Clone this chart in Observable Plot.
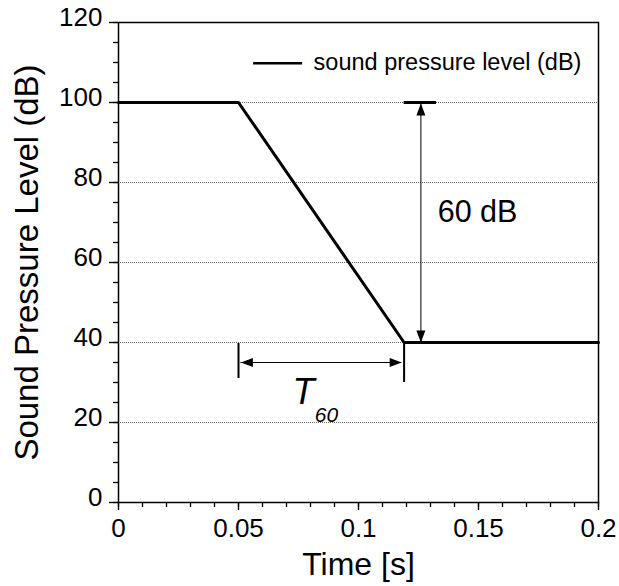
<!DOCTYPE html>
<html>
<head>
<meta charset="utf-8">
<script src="https://cdn.jsdelivr.net/npm/d3@7"></script>
<script src="https://cdn.jsdelivr.net/npm/@observablehq/plot@0.6"></script>
<style>
  html, body { margin: 0; padding: 0; background: white; }
  #chart { width: 619px; height: 586px; }
</style>
</head>
<body>
<div id="chart"></div>
<script>
// ---- data ----
const time = [0, 0.05, 0.119, 0.2];
const spl = [100, 100, 40, 40];

const xTicks = [0, 0.05, 0.1, 0.15, 0.2];
const xTickLabels = ["0", "0.05", "0.1", "0.15", "0.2"];
const xMinorTicks = [0, 0.01, 0.02, 0.03, 0.04, 0.05, 0.06, 0.07, 0.08, 0.09, 0.1,
                     0.11, 0.12, 0.13, 0.14, 0.15, 0.16, 0.17, 0.18, 0.19, 0.2];
const yTicks = [0, 20, 40, 60, 80, 100, 120];
const yMinorTicks = [0, 5, 10, 15, 20, 25, 30, 35, 40, 45, 50, 55, 60, 65, 70, 75, 80,
                     85, 90, 95, 100, 105, 110, 115, 120];
const gridValues = [20, 40, 60, 80, 100];

const seriesName = "sound pressure level (dB)";
const xTitle = "Time [s]";
const yTitle = "Sound Pressure Level (dB)";

// annotation values (data units)
const dbArrowX = 0.126;
const dbArrowY = [40, 99.75];
const dbCapX = [0.119, 0.1325];
const dbCapY = 100;
const dbLabel = "60 dB";
const dbLabelPos = [0.133, 72.6];

const t60ArrowY = 35;
const t60ArrowX = [0.051, 0.118];
const t60TickX = [0.05, 0.119];
const t60TickY1 = [31, 30];
const t60TickY2 = [39.75, 40];
const t60Label = "T";
const t60LabelPos = [0.0725, 27.5];
const t60Sub = "60";
const t60SubPos = [0.0818, 21.7];

const legendLineX = [0.0563, 0.0767];
const legendY = 109.8;
const legendTextX = 0.0813;

// ---- build ----
const line = time.map((t, i) => ({t, v: spl[i]}));
const font = "'Liberation Sans', Arial, sans-serif";

const arrowHead = {
  draw(ctx) {
    ctx.moveTo(0, 0);
    ctx.lineTo(-4.5, 12);
    ctx.lineTo(4.5, 12);
    ctx.closePath();
  }
};

const chart = Plot.plot({
  width: 619,
  height: 586,
  marginLeft: 118,
  marginRight: 21,
  marginTop: 22,
  marginBottom: 84,
  x: {domain: [0, 0.2]},
  y: {domain: [0, 120]},
  style: {fontFamily: font, background: "white", color: "black", overflow: "visible"},
  marks: [
    Plot.gridY(gridValues, {stroke: "#666", strokeOpacity: 1, strokeDasharray: "1,1", strokeWidth: 1}),
    // axes
    Plot.axisX({ticks: xMinorTicks, tickSize: 5, tickFormat: () => "", label: null, strokeWidth: 1.3}),
    Plot.axisX({ticks: xTicks, tickSize: 8, tickPadding: 8, fontSize: 26, label: null, strokeWidth: 1.3,
      tickFormat: d => xTickLabels[xTicks.indexOf(d)]}),
    Plot.axisY({ticks: yMinorTicks, tickSize: 5, tickFormat: () => "", label: null, strokeWidth: 1.3}),
    Plot.axisY({ticks: yTicks, tickSize: 9, tickFormat: () => "", label: null, strokeWidth: 1.3}),
    Plot.axisY({ticks: yTicks, tickSize: 0, tickPadding: 16, dy: -5, fontSize: 26, label: null}),
    Plot.frame({stroke: "black", strokeWidth: 1.5}),
    // axis titles
    Plot.text([xTitle], {text: d => d, frameAnchor: "bottom", textAnchor: "middle", lineAnchor: "middle", dy: 62.5, fontSize: 32}),
    Plot.text([yTitle], {text: d => d, frameAnchor: "left", textAnchor: "middle", lineAnchor: "middle", dx: -91.5, dy: 0, rotate: -90, fontSize: 33}),
    // series
    Plot.line(line, {x: "t", y: "v", stroke: "black", strokeWidth: 3}),
    // 60 dB arrow
    Plot.ruleX([dbArrowX], {y1: dbArrowY[0], y2: dbArrowY[1], stroke: "black", strokeWidth: 1}),
    Plot.ruleY([dbCapY], {x1: dbCapX[0], x2: dbCapX[1], stroke: "black", strokeWidth: 3}),
    Plot.dot([{x: dbArrowX, y: dbArrowY[1]}], {x: "x", y: "y", symbol: arrowHead, fill: "black", stroke: "none", rotate: 0}),
    Plot.dot([{x: dbArrowX, y: dbArrowY[0]}], {x: "x", y: "y", symbol: arrowHead, fill: "black", stroke: "none", rotate: 180}),
    Plot.text([{x: dbLabelPos[0], y: dbLabelPos[1], s: dbLabel}], {x: "x", y: "y", text: "s", textAnchor: "start", lineAnchor: "middle", fontSize: 30.5}),
    // T60 arrow
    Plot.ruleY([t60ArrowY], {x1: t60ArrowX[0], x2: t60ArrowX[1], stroke: "black", strokeWidth: 1}),
    Plot.ruleX(t60TickX.map((x, i) => ({x, y1: t60TickY1[i], y2: t60TickY2[i]})), {x: "x", y1: "y1", y2: "y2", stroke: "black", strokeWidth: 2}),
    Plot.dot([{x: t60ArrowX[0], y: t60ArrowY}], {x: "x", y: "y", symbol: arrowHead, fill: "black", stroke: "none", rotate: -90}),
    Plot.dot([{x: t60ArrowX[1], y: t60ArrowY}], {x: "x", y: "y", symbol: arrowHead, fill: "black", stroke: "none", rotate: 90}),
    Plot.text([{x: t60LabelPos[0], y: t60LabelPos[1], s: t60Label}], {x: "x", y: "y", text: "s", textAnchor: "start", lineAnchor: "middle", fontSize: 36, fontStyle: "italic"}),
    Plot.text([{x: t60SubPos[0], y: t60SubPos[1], s: t60Sub}], {x: "x", y: "y", text: "s", textAnchor: "start", lineAnchor: "middle", fontSize: 21, fontStyle: "italic"}),
    // legend
    Plot.ruleY([legendY], {x1: legendLineX[0], x2: legendLineX[1], stroke: "black", strokeWidth: 2.5}),
    Plot.text([{x: legendTextX, y: 110, s: seriesName}], {x: "x", y: "y", text: "s", textAnchor: "start", lineAnchor: "middle", fontSize: 23.5})
  ]
});

document.getElementById("chart").appendChild(chart);
</script>
</body>
</html>
